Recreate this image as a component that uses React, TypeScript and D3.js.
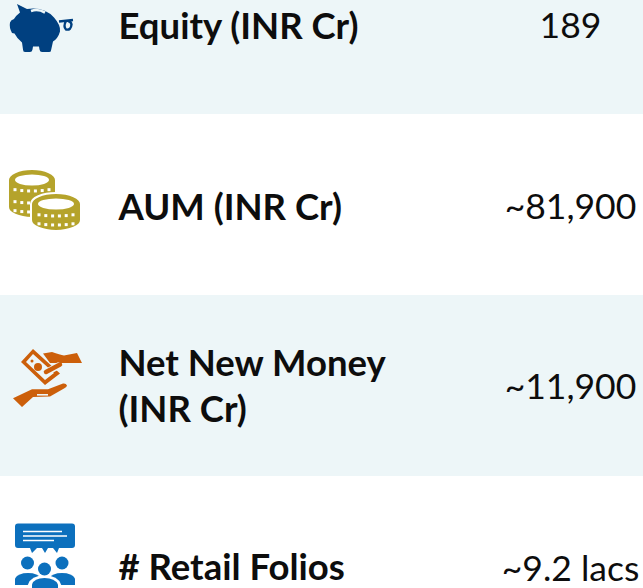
import React, { useEffect, useRef } from "react";
import * as d3 from "d3";

const rowNames = ["equity", "aum", "netNewMoney", "folios"];
const labels = [["Equity (INR Cr)"], ["AUM (INR Cr)"], ["Net New Money", "(INR Cr)"], ["# Retail Folios"]];
const values = ["189", "~81,900", "~11,900", "~9.2 lacs"];
const tints = ["#edf6f8", "#ffffff", "#edf6f8", "#ffffff"];

const W = 643;
const H = 588;
const FONT = "Lato, 'Open Sans', sans-serif";
const INK = "#0d0d0d";

// icons are drawn relative to the row centre
const drawPig = (g: any) => {
  const c = "#004080";
  g.append("path").attr("fill", c).attr("d",
    "M17,-19.5 L27,-14.5 Q44,-17 54,-6 Q61,2 60,8 Q58,15 53,18 L51,27 Q51,28.5 49,28.5 L42,28.5 Q40,28.5 39.5,26 L39,23 L33,23 L32.5,26 Q32,28.5 30,28.5 L25,28.5 Q23,28.5 23,26 L22,19 Q17,15 14.5,10 L12,9.5 Q9,4 10,-1 Q11,-4 14,-4.5 Q16,-8 20,-11 Z");
  g.append("path").attr("fill", "none").attr("stroke", "#edf6f8").attr("stroke-width", 2.6)
    .attr("d", "M31,-12.5 Q38,-15 45,-11");
  g.append("path").attr("fill", "none").attr("stroke", c).attr("stroke-width", 2.4)
    .attr("d", "M59,-2 L73,-3.5 M66,-2.5 Q63,3 66,6 Q71,7 71.5,1 Q71,-2 68,-2.5");
};

const drawCoins = (g: any) => {
  const c = "#b5a32b";
  const bg = "#ffffff";
  const coin = (cx: number, cy: number, rx: number, ry: number, depth: number, tickRows: number[]) => {
    g.append("path")
      .attr("fill", c)
      .attr("stroke", bg)
      .attr("stroke-width", 2)
      .attr("d", `M${cx - rx},${cy} A${rx},${ry} 0 0 1 ${cx + rx},${cy} L${cx + rx},${cy + depth} A${rx},${ry} 0 0 1 ${cx - rx},${cy + depth} Z`);
    tickRows.forEach((off) => {
      d3.range(-2.5, 3).forEach((k: number) => {
        const dx = k * 6.8;
        g.append("rect")
          .attr("x", cx + dx - 1.5)
          .attr("y", cy + off + 4.5 * Math.sqrt(Math.max(0, 1 - (dx / rx) ** 2)))
          .attr("width", 3)
          .attr("height", 3)
          .attr("fill", bg);
      });
    });
    g.append("ellipse").attr("cx", cx).attr("cy", cy).attr("rx", rx - 7).attr("ry", ry - 5.5).attr("fill", bg);
  };
  coin(32, -24.5, 24, 11, 27, [5, 17, 26]);
  coin(56, -0.5, 25, 11, 16, [6, 15]);
};

const drawHands = (g: any) => {
  const c = "#cc5f0a";
  const bg = "#edf6f8";
  // lower hand
  g.append("path").attr("fill", c).attr("d",
    "M13,12.8 L32,3.8 L48,3.8 L63,-2 Q66,-2.5 67,0 Q67,1.5 64,3 L50,11 L33,11.5 L22,21.5 Z");
  g.append("path").attr("fill", "none").attr("stroke", bg).attr("stroke-width", 1.6)
    .attr("d", "M37,9.3 L48,9.3");
  // upper hand
  g.append("path").attr("fill", c).attr("d",
    "M43,-32 L52,-33.5 Q60,-31 64,-30 L77,-32.5 L82,-22.5 L62,-22.5 L50,-22.5 Z");
  // bank note
  g.append("path").attr("fill", c).attr("fill-rule", "evenodd").attr("d",
    "M21,-23.5 L33,-36.5 L60,-12 L45,-0.5 Z M26,-23.5 L45,-5.5 L54,-12.5 L33,-31.5 Z");
  g.append("circle").attr("cx", 38).attr("cy", -18.5).attr("r", 4).attr("fill", c);
  g.append("circle").attr("cx", 32).attr("cy", -24.5).attr("r", 1.5).attr("fill", c);
  // thumb over the note
  g.append("path").attr("fill", "none").attr("stroke", bg).attr("stroke-width", 7).attr("stroke-linecap", "round")
    .attr("d", "M47,-13.5 L58,-19.5");
  g.append("path").attr("fill", "none").attr("stroke", c).attr("stroke-width", 4.5).attr("stroke-linecap", "round")
    .attr("d", "M46,-13.5 L60,-21");
};

const drawFolios = (g: any) => {
  const c = "#0c70bd";
  g.append("path").attr("fill", c).attr("d",
    "M18,-43 L72,-43 Q75,-43 75,-40 L75,-21.5 Q75,-18.5 72,-18.5 L59,-18.5 L57,-13.5 L53,-18.5 L48,-18.5 L45,-13.5 L42,-18.5 L37,-18.5 L32,-13.5 L30,-18.5 L18,-18.5 Q15,-18.5 15,-21.5 L15,-40 Q15,-43 18,-43 Z");
  g.append("path").attr("fill", "none").attr("stroke", "#ffffff").attr("stroke-width", 1.4)
    .attr("d", "M23,-35 L62,-35 M23,-30.5 L67,-30.5 M23,-26 L54,-26");
  g.append("circle").attr("cx", 27.5).attr("cy", -3.5).attr("r", 6.5).attr("fill", c);
  g.append("circle").attr("cx", 62).attr("cy", -3.5).attr("r", 6.5).attr("fill", c);
  g.append("path").attr("fill", c).attr("d", "M15,18.5 L15,12 Q18,6.5 28,6.5 Q38,6.5 41,12 L41,18.5 Z");
  g.append("path").attr("fill", c).attr("d", "M49,18.5 L49,12 Q52,6.5 62,6.5 Q72,6.5 75,12 L75,18.5 Z");
  g.append("circle").attr("cx", 44.5).attr("cy", 2.5).attr("r", 8.5).attr("fill", "#ffffff");
  g.append("path").attr("fill", "#ffffff").attr("d", "M28,22 L28,18 Q31,9 44.5,9 Q58,9 61,18 L61,22 Z");
  g.append("circle").attr("cx", 44.5).attr("cy", 2.5).attr("r", 6.5).attr("fill", c);
  g.append("path").attr("fill", c).attr("d", "M32,22 L32,18 Q34,11.5 44.5,11.5 Q55,11.5 58,18 L58,22 Z");
};

const icons = [drawPig, drawCoins, drawHands, drawFolios];

const App = () => {
  const ref = useRef<SVGSVGElement | null>(null);

  useEffect(() => {
    const svg = d3.select(ref.current);
    svg.selectAll("*").remove();

    const y = d3.scaleBand().domain(rowNames).range([-67, 657]);

    const rows = svg.selectAll("g.row")
      .data(rowNames)
      .enter()
      .append("g")
      .attr("class", "row")
      .attr("transform", (d: string) => `translate(0, ${y(d)! + y.bandwidth() / 2})`);

    rows.append("rect")
      .attr("x", 0)
      .attr("y", -y.bandwidth() / 2)
      .attr("width", W)
      .attr("height", y.bandwidth())
      .attr("fill", (_: string, i: number) => tints[i]);

    rows.each(function (this: any, _: string, i: number) {
      const g = d3.select(this);
      icons[i](g.append("g"));

      const lines = labels[i];
      const base = lines.length > 1 ? -10 : i === 3 ? 13.5 : 15;
      lines.forEach((line, k) => {
        g.append("text")
          .attr("x", 118.5)
          .attr("y", base + k * 46)
          .attr("font-family", FONT)
          .attr("font-weight", 700)
          .attr("font-size", 36.5)
          .attr("fill", INK)
          .text(line);
      });

      g.append("text")
        .attr("x", 570.5)
        .attr("y", i === 2 ? 13 : 14)
        .attr("text-anchor", "middle")
        .attr("font-family", FONT)
        .attr("font-size", 35.5)
        .attr("fill", INK)
        .text(values[i]);
    });
  }, []);

  return (
    <svg
      ref={ref}
      width={W}
      height={H}
      style={{ position: "absolute", left: 0, top: 0, display: "block", background: "#fff" }}
    ></svg>
  );
};

export default App;
